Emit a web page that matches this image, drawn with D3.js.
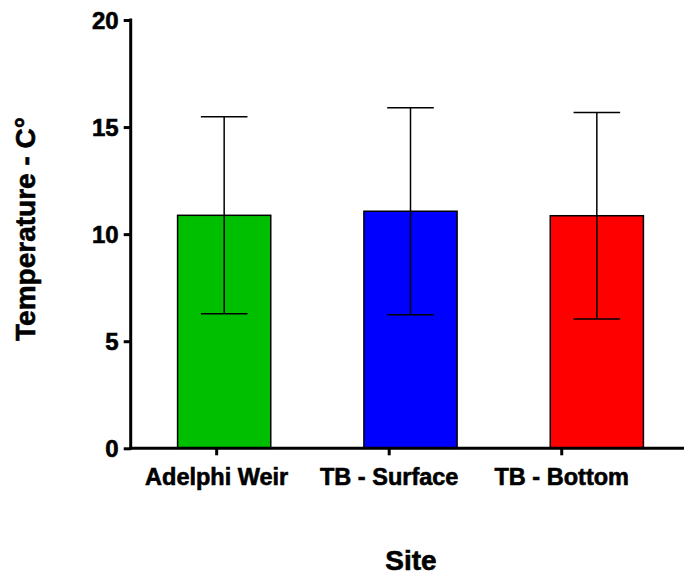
<!DOCTYPE html>
<html>
<head>
<meta charset="utf-8">
<script src="https://cdn.jsdelivr.net/npm/d3@7"></script>
<style>
  html, body { margin: 0; padding: 0; background: #fff; }
  svg { display: block; }
  text { font-family: Arial, "Liberation Sans", Helvetica, sans-serif; font-weight: bold; fill: #000; stroke: #000; stroke-width: 0.6px; }
</style>
</head>
<body>
<script>
// Mean water temperature by site, with standard deviation
const sites = ["Adelphi Weir", "TB - Surface", "TB - Bottom"];
const means = [10.88, 11.07, 10.86];
const sds = [4.60, 4.83, 4.82];
const colors = ["#00BF00", "#0000FF", "#FF0000"];
const yTicks = [0, 5, 10, 15, 20];

const W = 684, H = 578;
const svg = d3.select("body").append("svg").attr("width", W).attr("height", H);

const y = d3.scaleLinear().domain([0, 20]).range([448.3, 20]);

// bar placement
const xBar = d3.scaleBand().domain(sites).range([131, 690]).paddingInner(0.5).paddingOuter(0.25);
// category tick placement along the axis
const xTick = d3.scaleBand().domain(sites).range([130.4, 648]);

// bars
svg.append("g").selectAll("rect").data(sites).join("rect")
  .attr("x", d => xBar(d))
  .attr("y", (d, i) => y(means[i]))
  .attr("width", xBar.bandwidth())
  .attr("height", (d, i) => y(0) - y(means[i]))
  .attr("fill", (d, i) => colors[i])
  .attr("stroke", "#000")
  .attr("stroke-width", 1.5);

// error bars
const eb = svg.append("g").attr("stroke", "#000").attr("stroke-width", 1.5).attr("fill", "none");
sites.forEach((s, i) => {
  const cx = xBar(s) + xBar.bandwidth() / 2;
  const hi = y(means[i] + sds[i]), lo = y(means[i] - sds[i]);
  const cap = xBar.bandwidth() / 4;
  eb.append("line").attr("x1", cx).attr("x2", cx).attr("y1", hi).attr("y2", lo);
  eb.append("line").attr("x1", cx - cap).attr("x2", cx + cap).attr("y1", hi).attr("y2", hi);
  eb.append("line").attr("x1", cx - cap).attr("x2", cx + cap).attr("y1", lo).attr("y2", lo);
});

// y axis
const yAxis = svg.append("g").attr("transform", "translate(130.7,0)")
  .call(d3.axisLeft(y).tickValues(yTicks).tickSize(7).tickSizeOuter(0).tickPadding(5));
yAxis.select(".domain").attr("stroke", "#000").attr("stroke-width", 3)
  .attr("d", `M0,${y(20) - 1.5}V${y(0) + 1.5}`);
yAxis.selectAll(".tick line").attr("stroke", "#000").attr("stroke-width", 3);
yAxis.selectAll(".tick text").attr("font-size", 24).attr("font-weight", "bold")
  .attr("font-family", "Arial, 'Liberation Sans', sans-serif").attr("dy", "0.35em");

// x axis
const xAxis = svg.append("g").attr("transform", `translate(0,${y(0)})`)
  .call(d3.axisBottom(xTick).tickSize(7).tickSizeOuter(0).tickPadding(10));
xAxis.select(".domain").attr("stroke", "#000").attr("stroke-width", 3)
  .attr("d", `M129.2,0H${W}`);
xAxis.selectAll(".tick line").attr("stroke", "#000").attr("stroke-width", 3);
xAxis.selectAll(".tick text").attr("font-size", 23.5).attr("font-weight", "bold")
  .attr("font-family", "Arial, 'Liberation Sans', sans-serif")
  .attr("dy", null).attr("y", 0).attr("transform", "translate(0,36.5)");

// axis titles
svg.append("text")
  .attr("transform", "translate(35,229) rotate(-90)")
  .attr("text-anchor", "middle")
  .attr("font-size", 28)
  .text("Temperature - C°");

svg.append("text")
  .attr("x", 411).attr("y", 570)
  .attr("text-anchor", "middle")
  .attr("font-size", 28)
  .text("Site");
</script>
</body>
</html>
